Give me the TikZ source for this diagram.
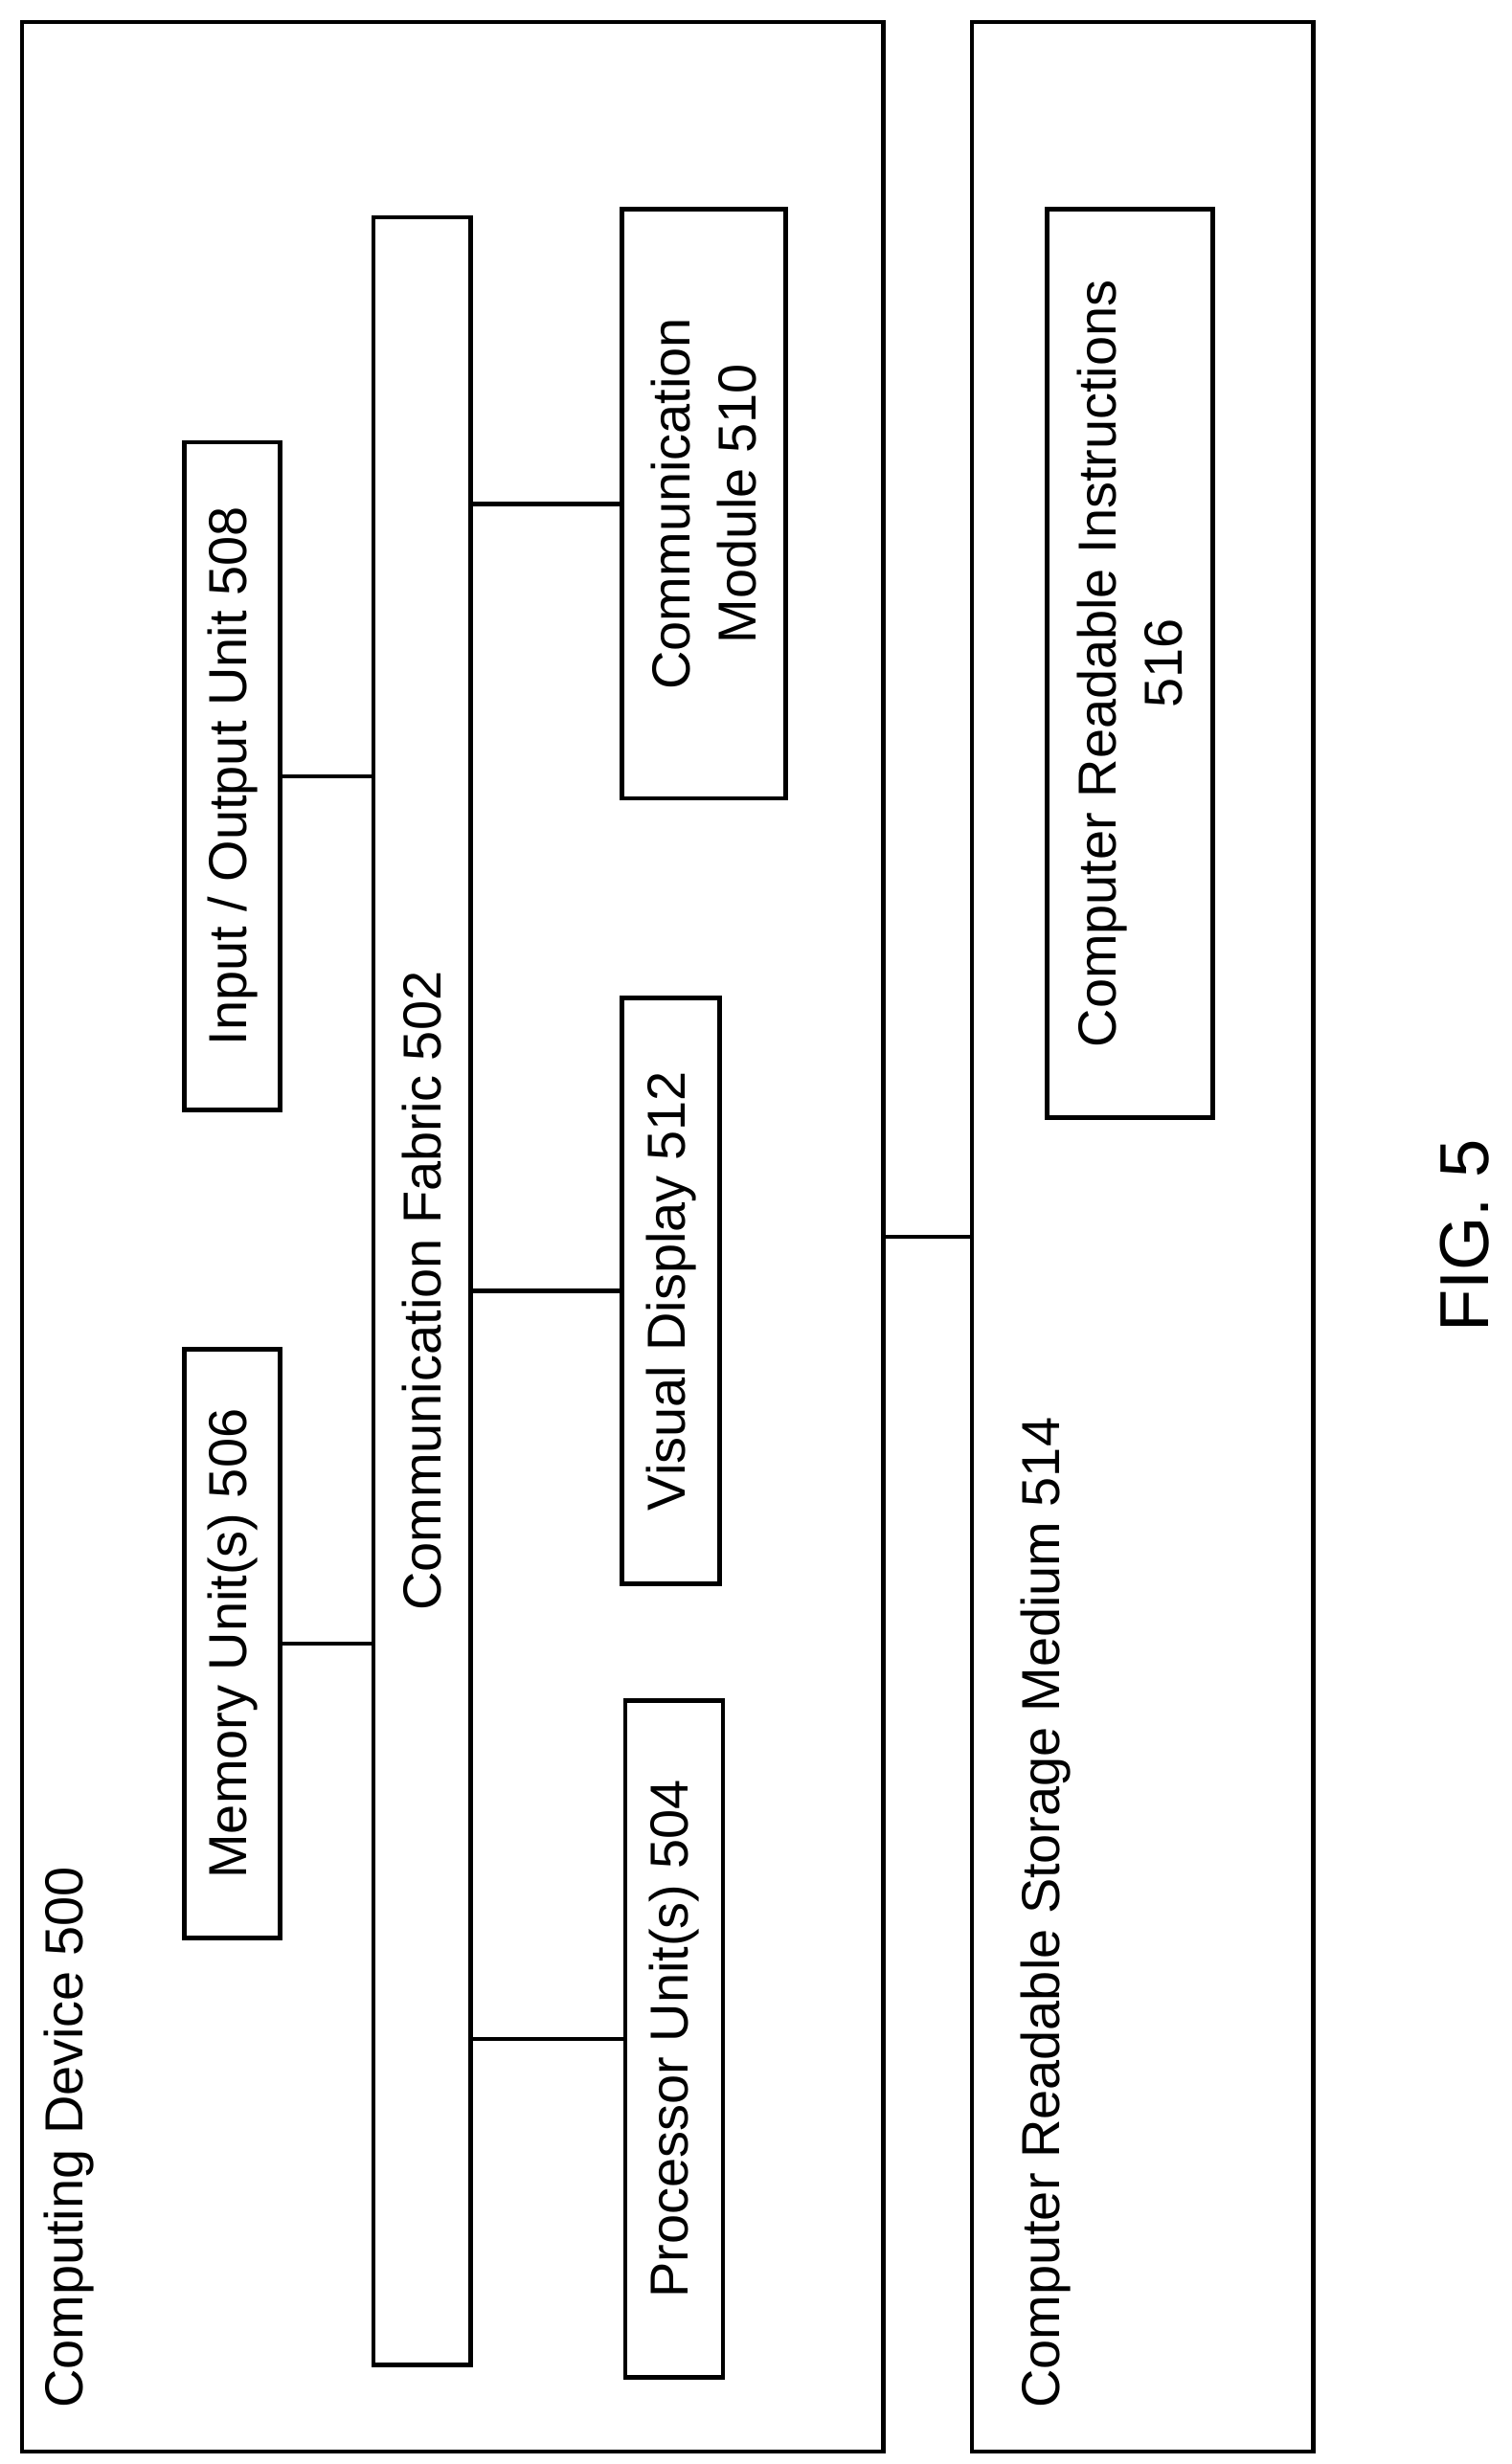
\documentclass[tikz,border=0pt]{standalone}
\usepackage{fontspec}
\setmainfont{Liberation Sans}
\usetikzlibrary{positioning}
\tikzset{
  unit/.style={draw, line width=1.4pt, rotate=90, inner sep=0pt, align=center,
    font=\fontsize{17}{21}\selectfont},
  link/.style={line width=1.4pt},
  lbl/.style={rotate=90, inner sep=0pt, font=\fontsize{17}{21}\selectfont}
}
\begin{document}
\begin{tikzpicture}[x=0.5pt,y=-0.5pt]
\useasboundingbox (0,0) rectangle (960,1565);

% outer boxes
\node[unit, minimum width=771.5pt, minimum height=273.5pt] (dev) at (287.5,785.5) {};
\node[unit, minimum width=771.5pt, minimum height=108.5pt] (med) at (725.5,785.5) {};
\node[lbl, anchor=south west] (devlbl) at (60,1530) {Computing Device 500};
\node[lbl, anchor=south west] (medlbl) at (680,1530) {Computer Readable Storage Medium 514};

% units inside the device
\node[unit, minimum width=682pt, minimum height=31pt] (fab) at (268,820) {Communication Fabric 502};
\node[unit, minimum width=212pt, minimum height=30.5pt] (io) at (147.5,493) {Input / Output Unit 508};
\node[unit, minimum width=187pt, minimum height=30.5pt] (mem) at (147.5,1044) {Memory Unit(s) 506};
\node[unit, minimum width=187pt, minimum height=52pt] (com) at (447,320) {Communication\\Module 510};
\node[unit, minimum width=186pt, minimum height=31pt] (vis) at (426,820) {Visual Display 512};
\node[unit, minimum width=215pt, minimum height=31pt] (proc) at (428,1295) {Processor Unit(s) 504};

% instructions
\node[unit, minimum width=288.5pt, minimum height=52.5pt] (ins) at (717.5,421.5) {Computer Readable Instructions\\516};

% connectors
\draw[link] (io.south) -- (io.south -| fab.north);
\draw[link] (mem.south) -- (mem.south -| fab.north);
\draw[link] (com.north) -- (com.north -| fab.south);
\draw[link] (vis.north) -- (vis.north -| fab.south);
\draw[link] (proc.north) -- (proc.north -| fab.south);
\draw[link] (dev.south) -- (med.north);

\node[lbl, font=\fontsize{22}{26}\selectfont] (fig) at (930,785) {FIG. 5};
\end{tikzpicture}
\end{document}
